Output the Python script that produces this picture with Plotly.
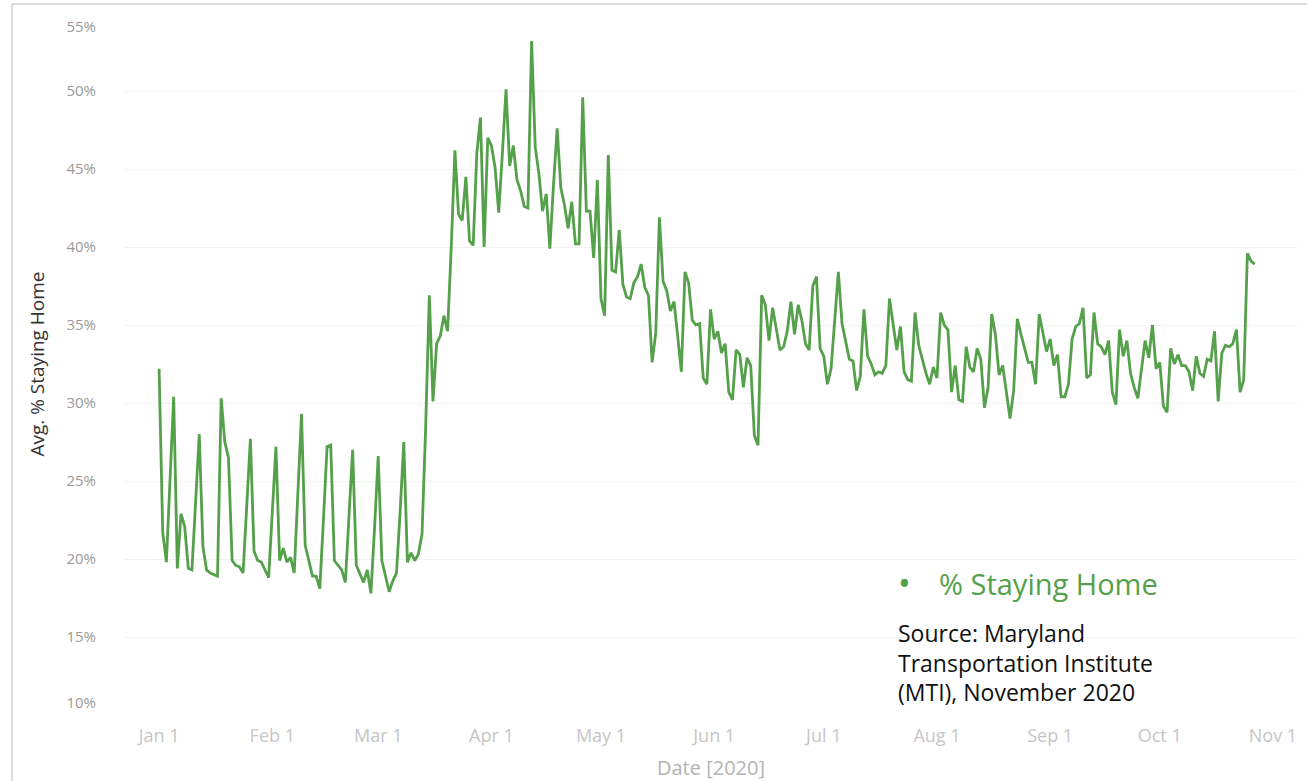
import pandas as pd
import plotly.graph_objects as go

# ---- data (daily average % staying home, 2020) ----
jan = [32.2, 21.7, 19.8, 25.5, 30.4, 19.4, 22.9, 22.1, 19.4, 19.3, 23.5, 28.0, 20.8, 19.3, 19.1, 19.0,
       18.9, 30.3, 27.5, 26.5, 19.9, 19.6, 19.5, 19.1, 23.0, 27.7, 20.5, 19.9, 19.8, 19.3, 18.8]
feb = [23.0, 27.2, 19.9, 20.7, 19.8, 20.1, 19.1, 24.0, 29.3, 20.9, 19.9, 18.9, 18.9, 18.1, 22.5, 27.2,
       27.3, 19.9, 19.6, 19.3, 18.5, 22.5, 27.0, 19.6, 19.1, 18.5, 19.3, 17.8, 22.0]
mar = [26.6, 19.9, 18.9, 17.9, 18.6, 19.1, 23.0, 27.5, 19.8, 20.4, 19.9, 20.3, 21.6, 28.5, 36.9, 30.1,
       33.8, 34.3, 35.6, 34.6, 40.0, 46.2, 42.1, 41.7, 44.5, 40.4, 40.1, 46.0, 48.3, 40.0, 47.0]
apr = [46.5, 45.1, 42.2, 46.0, 50.1, 45.2, 46.5, 44.3, 43.6, 42.6, 42.5, 53.2, 46.4, 44.7, 42.3, 43.4,
       39.9, 44.0, 47.6, 43.8, 42.7, 41.2, 42.9, 40.2, 40.2, 49.6, 42.3, 42.3, 39.3, 44.3]
may = [36.7, 35.6, 45.9, 38.5, 38.4, 41.1, 37.6, 36.8, 36.7, 37.7, 38.1, 38.9, 37.4, 36.9, 32.6, 34.5,
       41.9, 37.8, 37.2, 35.9, 36.5, 34.3, 32.0, 38.4, 37.7, 35.3, 35.0, 35.1, 31.6, 31.2, 36.0]
jun = [34.1, 34.6, 33.2, 33.8, 30.7, 30.2, 33.4, 33.1, 31.0, 32.9, 32.4, 27.9, 27.3, 36.9, 36.3, 34.0,
       36.1, 34.7, 33.4, 33.6, 34.6, 36.5, 34.4, 36.3, 35.3, 33.8, 33.4, 37.5, 38.1, 33.5]
jul = [33.0, 31.2, 32.2, 35.3, 38.4, 35.1, 33.9, 32.8, 32.7, 30.8, 31.7, 36.0, 33.0, 32.5, 31.8, 32.0,
       31.9, 32.4, 36.7, 35.2, 33.4, 34.9, 32.0, 31.5, 31.4, 35.8, 33.7, 32.8, 31.9, 31.2, 32.3]
aug = [31.6, 35.8, 35.0, 34.7, 30.7, 32.4, 30.2, 30.1, 33.6, 32.3, 32.0, 33.5, 32.8, 29.7, 31.0, 35.7,
       34.4, 31.8, 32.4, 30.7, 29.0, 30.8, 35.4, 34.4, 33.4, 32.6, 32.6, 31.2, 35.7, 34.6, 33.3]
sep = [34.1, 32.4, 33.1, 30.4, 30.4, 31.2, 34.1, 34.9, 35.1, 36.1, 31.6, 31.8, 35.8, 33.8, 33.6, 33.1,
       34.0, 30.7, 29.9, 34.7, 33.0, 34.0, 31.9, 31.0, 30.3, 32.2, 34.0, 32.9, 35.0, 32.2]
octo = [32.6, 29.8, 29.4, 33.5, 32.5, 33.1, 32.4, 32.4, 32.0, 30.8, 33.0, 31.9, 31.7, 32.8, 32.7, 34.6,
        30.1, 33.2, 33.7, 33.6, 33.8, 34.7, 30.7, 31.5, 39.6, 39.1, 38.9]

x_tick_vals = ["2020-01-01", "2020-02-01", "2020-03-01", "2020-04-01", "2020-05-01", "2020-06-01",
               "2020-07-01", "2020-08-01", "2020-09-01", "2020-10-01", "2020-11-01"]
x_tick_text = ["Jan 1", "Feb 1", "Mar 1", "Apr 1", "May 1", "Jun 1",
               "Jul 1", "Aug 1", "Sep 1", "Oct 1", "Nov 1"]
y_tick_vals = [15, 20, 25, 30, 35, 40, 45, 50]
y_tick_text = ["15%", "20%", "25%", "30%", "35%", "40%", "45%", "50%"]
y_top_val, y_top_text = [55], ["55%"]
y_bottom_val, y_bottom_text = [10], ["10%"]
y_range = [10, 55]
x_range = ["2019-12-22 16:00", "2020-11-07 14:00"]

series_name = "% Staying Home"
source_lines = ["Source: Maryland", "Transportation Institute", "(MTI), November 2020"]

values = jan + feb + mar + apr + may + jun + jul + aug + sep + octo
dates = pd.date_range("2020-01-01", periods=len(values), freq="D")

# ---- layout geometry ----
W, H = 1307, 781
L, R, T, B = 125, 10, 13, 66
PW, PH = W - L - R, H - T - B
GREEN = "#55a04a"
TICKFONT_Y = dict(family="Open Sans", size=15, color="#9a9a9a")


def px_x(px):
    return (px - L) / PW


def px_y(py):
    return 1 - (py - T) / PH


fig = go.Figure()
fig.add_trace(go.Scatter(
    x=dates, y=values, mode="lines", name=series_name,
    line=dict(color=GREEN, width=2.8),
))
# empty helper traces so the edge-label axes get drawn
for ax in ("y2", "y3"):
    fig.add_trace(go.Scatter(x=[], y=[], yaxis=ax, mode="lines",
                             hoverinfo="skip", showlegend=False))

fig.update_layout(
    template="none",
    width=W, height=H,
    margin=dict(l=L, r=R, t=T, b=B),
    paper_bgcolor="white", plot_bgcolor="white",
    showlegend=False,
    xaxis=dict(
        range=x_range,
        tickmode="array", tickvals=x_tick_vals, ticktext=x_tick_text,
        showgrid=False, zeroline=False, showline=False, ticks="",
        tickfont=dict(family="Open Sans", size=18, color="#c6c6c6"),
        ticklabelstandoff=8,
        title=dict(text="Date [2020]", standoff=14,
                   font=dict(family="Open Sans", size=20, color="#b4b4b4")),
    ),
    yaxis=dict(
        range=y_range,
        tickmode="array", tickvals=y_tick_vals, ticktext=y_tick_text,
        showgrid=True, gridcolor="#f2f2f2", gridwidth=1,
        zeroline=False, showline=False, ticks="",
        tickfont=TICKFONT_Y,
        ticklabelstandoff=28,
        title=dict(text="Avg. % Staying Home", standoff=16,
                   font=dict(family="Open Sans", size=19, color="#333333")),
    ),
    yaxis2=dict(
        range=y_range, overlaying="y", side="left", anchor="x",
        tickmode="array", tickvals=y_top_val, ticktext=y_top_text,
        showgrid=False, zeroline=False, showline=False, ticks="",
        tickfont=TICKFONT_Y, ticklabelstandoff=28, ticklabelshift=14,
    ),
    yaxis3=dict(
        range=y_range, overlaying="y", side="left", anchor="x",
        tickmode="array", tickvals=y_bottom_val, ticktext=y_bottom_text,
        showgrid=False, zeroline=False, showline=False, ticks="",
        tickfont=TICKFONT_Y, ticklabelstandoff=28, ticklabelshift=-12,
    ),
)

# legend-like label
fig.add_annotation(x=px_x(904), y=px_y(583), xref="paper", yref="paper",
                   text="•", showarrow=False, xanchor="center", yanchor="middle",
                   font=dict(family="Open Sans", size=34, color=GREEN))
fig.add_annotation(x=px_x(937), y=px_y(583), xref="paper", yref="paper",
                   text=series_name, showarrow=False, xanchor="left", yanchor="middle",
                   font=dict(family="Open Sans", size=29, color=GREEN))
for i, line in enumerate(source_lines):
    fig.add_annotation(x=px_x(896), y=px_y(633 + i * 29.5), xref="paper", yref="paper",
                       text=line, showarrow=False, xanchor="left", yanchor="middle",
                       font=dict(family="Open Sans", size=23, color="#111111"))

# outer frame (top and left edges)
fig.add_shape(type="line", xref="paper", yref="paper",
              x0=px_x(12), x1=px_x(W), y0=px_y(4), y1=px_y(4),
              line=dict(color="#cfcfcf", width=1.5))
fig.add_shape(type="line", xref="paper", yref="paper",
              x0=px_x(12), x1=px_x(12), y0=px_y(4), y1=px_y(H),
              line=dict(color="#cfcfcf", width=1.5))

fig.write_html("out.html", config={"displayModeBar": False},
               post_script="document.body.style.margin='0';")
